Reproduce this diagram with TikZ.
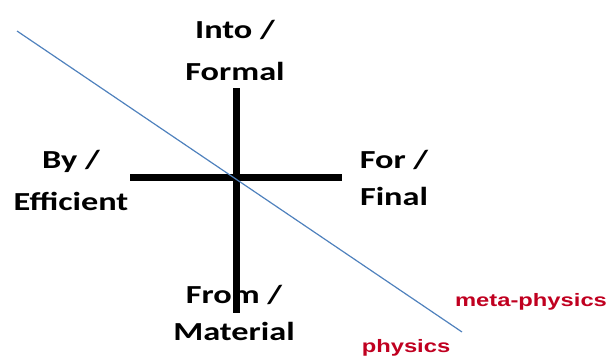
\documentclass[tikz,border=0pt]{standalone}
\usepackage{fontspec}
\newfontfamily\labelfont[FakeStretch=1.32]{Carlito}
\newfontfamily\redfont[FakeStretch=1.32]{Liberation Sans}
\definecolor{axisblue}{HTML}{4F81BD}
\definecolor{labelred}{HTML}{C00020}
\begin{document}
\begin{tikzpicture}[x=1pt,y=-1pt,
  cause/.style={font=\labelfont\bfseries\fontsize{26}{42}\selectfont, align=center, inner sep=0pt, anchor=base},
  realm/.style={font=\redfont\bfseries\fontsize{18}{20}\selectfont, text=labelred, inner sep=0pt, anchor=base},
  bar/.style={line width=7pt, black},
  divider/.style={axisblue, line width=1.2pt}]
\useasboundingbox (0,0) rectangle (611,356);
\coordinate (c) at (236,177);
\coordinate (top) at (236,88);
\coordinate (bot) at (236,313);
\coordinate (lft) at (130,177);
\coordinate (rgt) at (342,177);
\coordinate (d1) at (17,31);
\coordinate (d2) at (462,332);
\draw[bar] (top) -- (bot);
\draw[bar] (lft) -- (rgt);
\draw[divider] (d1) -- (d2);
\node[cause] (into) at (235,80) {Into /\\Formal};
\node[cause] (by) at (71,210) {By /\\Efficient};
\node[cause] (for) at (394,205) {For /\\[-5pt]Final};
\node[cause] (from) at (234,340) {From /\\[-5pt]Material};
\node[realm] (meta) at (531,306) {meta-physics};
\node[realm] (phys) at (406,352) {physics};
\end{tikzpicture}
\end{document}
